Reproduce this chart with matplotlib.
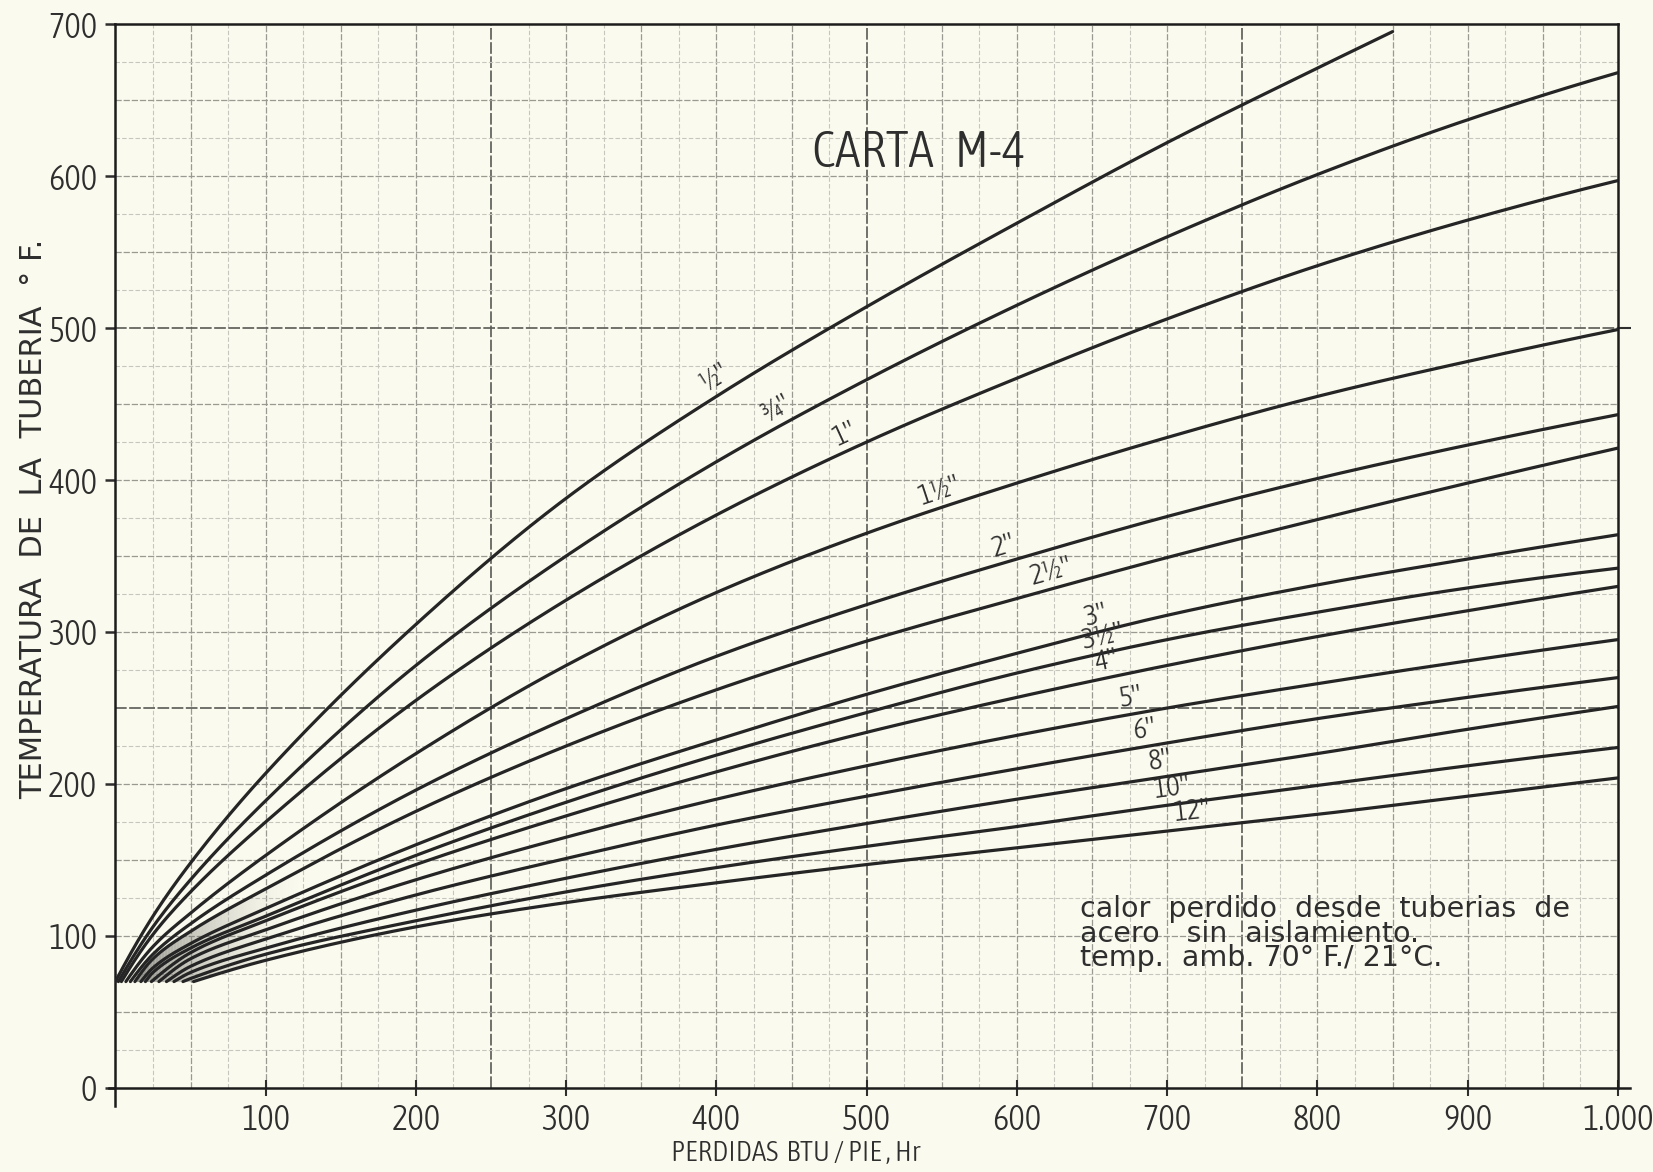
import os
import numpy as np
import matplotlib
matplotlib.use("Agg")
import matplotlib.pyplot as plt
from matplotlib import font_manager as fm
from matplotlib.font_manager import FontProperties

# ---- data: heat loss of bare steel pipe (BTU/ft·hr) vs pipe temperature (°F)
pipe_sizes = ['½"', '¾"', '1"', '1½"', '2"', '2½"', '3"', '3½"', '4"',
              '5"', '6"', '8"', '10"', '12"']
ambient_temp = 70
loss_grid = [25, 50, 100, 200, 300, 400, 500, 600, 700, 800, 900, 1000]
# loss at which each curve leaves the ambient temperature
start_loss = [0, 2, 4, 7, 10, 13, 17, 20, 24, 29, 34, 39, 45, 52]

temp_half = [113, 148, 207, 305, 388, 455, 514, 569, 622, 671, None, None]
half_end_loss, half_end_temp = 850, 695
temp_3q = [106, 137, 189, 278, 350, 412, 466, 515, 560, 601, 637, 668]
temp_1 = [101, 129, 175, 255, 321, 377, 425, 467, 506, 541, 571, 597]
temp_1h = [93, 115, 153, 220, 278, 326, 365, 398, 428, 455, 478, 499]
temp_2 = [88, 108, 140, 196, 243, 284, 318, 348, 376, 401, 423, 443]
temp_2h = [85, 103, 131, 182, 225, 262, 294, 322, 349, 374, 398, 421]
temp_3 = [79, 95, 118, 160, 197, 229, 259, 286, 311, 331, 348, 364]
temp_3h = [76, 92, 113, 153, 188, 219, 247, 273, 295, 313, 329, 342]
temp_4 = [None, 89, 110, 147, 179, 208, 234, 257, 278, 297, 314, 330]
temp_5 = [None, 85, 104, 137, 165, 190, 212, 232, 250, 266, 281, 295]
temp_6 = [None, 80, 98, 127, 151, 173, 192, 210, 227, 243, 257, 270]
temp_8 = [None, 76, 92, 117, 138, 157, 174, 190, 205, 220, 236, 251]
temp_10 = [None, 72, 88, 110, 129, 145, 159, 172, 186, 199, 212, 224]
temp_12 = [None, None, 84, 106, 122, 135, 147, 158, 169, 180, 192, 204]

curve_temps = [temp_half, temp_3q, temp_1, temp_1h, temp_2, temp_2h, temp_3,
               temp_3h, temp_4, temp_5, temp_6, temp_8, temp_10, temp_12]

# where each size is written along its curve
label_loss = [405, 445, 490, 552, 594, 625, 655, 659, 662, 678, 687, 697, 705, 718]

x_ticks = [100, 200, 300, 400, 500, 600, 700, 800, 900, 1000]
x_tick_labels = ['100', '200', '300', '400', '500', '600', '700', '800', '900', '1.000']
y_ticks = [0, 100, 200, 300, 400, 500, 600, 700]

title_text = 'CARTA   M-4'
note_text = ('calor  perdido  desde  tuberias  de\n'
             'acero   sin  aislamiento.\n'
             'temp.  amb. 70° F./ 21°C.')
x_label = 'PERDIDAS  BTU / PIE , Hr'
y_label = 'TEMPERATURA  DE  LA  TUBERIA  ° F.'


def pchip(xk, yk, xs):
    """Shape-preserving piecewise cubic through the given points."""
    xk = np.asarray(xk, float)
    yk = np.asarray(yk, float)
    h = np.diff(xk)
    d = np.diff(yk) / h
    n = len(xk)
    m = np.zeros(n)
    for k in range(1, n - 1):
        if d[k - 1] * d[k] > 0:
            w1 = 2 * h[k] + h[k - 1]
            w2 = h[k] + 2 * h[k - 1]
            m[k] = (w1 + w2) / (w1 / d[k - 1] + w2 / d[k])

    def end_slope(h0, h1, d0, d1):
        s = ((2 * h0 + h1) * d0 - h0 * d1) / (h0 + h1)
        if np.sign(s) != np.sign(d0):
            s = 0.0
        elif np.sign(d0) != np.sign(d1) and abs(s) > abs(3 * d0):
            s = 3 * d0
        return s

    m[0] = end_slope(h[0], h[1], d[0], d[1])
    m[-1] = end_slope(h[-1], h[-2], d[-1], d[-2])
    xs = np.asarray(xs, float)
    i = np.clip(np.searchsorted(xk, xs) - 1, 0, n - 2)
    t = (xs - xk[i]) / h[i]
    h00 = 2 * t**3 - 3 * t**2 + 1
    h10 = t**3 - 2 * t**2 + t
    h01 = -2 * t**3 + 3 * t**2
    h11 = t**3 - t**2
    return h00 * yk[i] + h10 * h[i] * m[i] + h01 * yk[i + 1] + h11 * h[i] * m[i + 1]


def curve_points(k):
    xs = [start_loss[k]]
    ys = [ambient_temp]
    for q, t in zip(loss_grid, curve_temps[k]):
        if t is not None and q > start_loss[k]:
            xs.append(q)
            ys.append(t)
    if k == 0:
        xs.append(half_end_loss)
        ys.append(half_end_temp)
    return np.array(xs, float), np.array(ys, float)


def _num(v, table, default):
    if isinstance(v, (int, float)):
        return v
    return table.get(v, default)


def condensed_face():
    """Pick the narrowest-looking installed sans face for the lettering."""
    best = None
    for f in fm.fontManager.ttflist:
        tag = (f.name + ' ' + os.path.basename(f.fname)).lower()
        if f.style != 'normal' or 'mono' in tag or 'cjk' in tag:
            continue
        if 'serif' in tag and 'sans' not in tag:
            continue
        st = _num(f.stretch, fm.stretch_dict, 500)
        named = any(k in tag for k in ('narrow', 'condensed'))
        if st >= 500 and not named:
            continue
        if st >= 500:
            st = 300
        key = (abs(st - 200), abs(_num(f.weight, fm.weight_dict, 400) - 330))
        if best is None or key < best[0]:
            best = (key, f.fname)
    return best[1] if best else None


face = condensed_face()
if face:
    cond = FontProperties(fname=face)
    fs = 1.0
else:
    cond = FontProperties(family='DejaVu Sans', stretch='condensed')
    fs = 0.78

paper = '#fbfaee'
ink = '#252525'
text_col = '#2e2e2e'

fig = plt.figure(figsize=(16.53, 11.72), dpi=100, facecolor=paper)
ax = fig.add_axes([0.0698, 0.0717, 0.9090, 0.9078], facecolor=paper)
ax.set_xlim(0, 1000)
ax.set_ylim(0, 700)


# graph-paper grid: fine every 25, medium every 50, heavy every 250
def grid_style(v):
    if v % 250 == 0:
        return dict(color='#5a5a55', lw=1.2, ls=(0, (7, 1.5)))
    if v % 50 == 0:
        return dict(color='#9a9a93', lw=0.9, ls=(0, (5, 1.5)))
    return dict(color='#c6c6be', lw=0.8, ls=(0, (4, 2)))


for v in np.arange(25, 1000, 25):
    ax.axvline(v, zorder=1, **grid_style(v))
for v in np.arange(25, 700, 25):
    ax.axhline(v, zorder=1, **grid_style(v))

# smooth curves
curves = []
for k in range(len(pipe_sizes)):
    xk, yk = curve_points(k)
    xs = np.linspace(xk[0], xk[-1], 800)
    ys = pchip(xk, yk, xs)
    curves.append((xk, yk))
    ax.plot(xs, ys, color=ink, lw=2.3, solid_capstyle='round', zorder=4)

# stippled shading where the curves crowd together near ambient
fade_end = 125
xf = np.linspace(0, fade_end, 63)
x12, y12 = curves[-1]
xu, yu = curves[5]
low = np.where(xf < x12[0], ambient_temp, pchip(x12, y12, np.clip(xf, x12[0], None)))
up = pchip(xu, yu, np.clip(xf, xu[0], None))
for j in range(len(xf) - 1):
    a = 0.9 * (1 - xf[j] / fade_end) ** 1.8
    ax.fill_between(xf[j:j + 2], low[j:j + 2], up[j:j + 2], color='#6e6e69',
                    alpha=a, lw=0, zorder=3)

# size labels written along the curves
fig.canvas.draw()
for k, lab in enumerate(pipe_sizes):
    xk, yk = curves[k]
    q = label_loss[k]
    p0 = ax.transData.transform((q - 5, pchip(xk, yk, [q - 5])[0]))
    p1 = ax.transData.transform((q + 5, pchip(xk, yk, [q + 5])[0]))
    ang = np.degrees(np.arctan2(p1[1] - p0[1], p1[0] - p0[0]))
    off = 2.0
    dx = -np.sin(np.radians(ang)) * off
    dy = np.cos(np.radians(ang)) * off
    ax.annotate(lab, (q, pchip(xk, yk, [q])[0]), xytext=(dx, dy),
                textcoords='offset points', rotation=ang,
                rotation_mode='anchor', ha='center', va='bottom',
                fontproperties=cond, fontsize=21 * fs, color=text_col, zorder=5)

# frame and ticks
for s in ax.spines.values():
    s.set_color('#1c1c1c')
    s.set_linewidth(1.8)
ax.spines['left'].set_bounds(-12, 700)
ax.spines['bottom'].set_bounds(-4, 1008)
ax.set_xticks(x_ticks)
ax.set_xticklabels(x_tick_labels)
ax.set_yticks(y_ticks)
ax.tick_params(axis='x', direction='inout', length=12, width=1.5, pad=5,
               colors=text_col)
ax.tick_params(axis='y', direction='out', length=7, width=1.8, pad=6,
               colors=text_col)
for t in ax.get_xticklabels() + ax.get_yticklabels():
    t.set_fontproperties(cond)
    t.set_fontsize(25 * fs)

right = ax.secondary_yaxis('right')
right.set_yticks([500])
right.set_yticklabels([''])
right.tick_params(length=9, width=1.5, colors=text_col)
right.spines['right'].set_visible(False)

ax.text(535, 615, title_text, ha='center', va='center',
        fontproperties=cond, fontsize=37 * fs, color=text_col, zorder=5)
ax.text(642, 127, note_text, ha='left', va='top', fontsize=20.5,
        family='DejaVu Sans', color=text_col, linespacing=0.85, zorder=5)

fig.text(0.4815, 0.0154, x_label, ha='center', va='center',
         fontproperties=cond, fontsize=21 * fs, color=text_col)
fig.text(0.0205, 0.557, y_label, ha='center', va='center', rotation=90,
         fontsize=22, family='DejaVu Sans', color=text_col)

fig.savefig('out.png', dpi=100, facecolor=paper)
